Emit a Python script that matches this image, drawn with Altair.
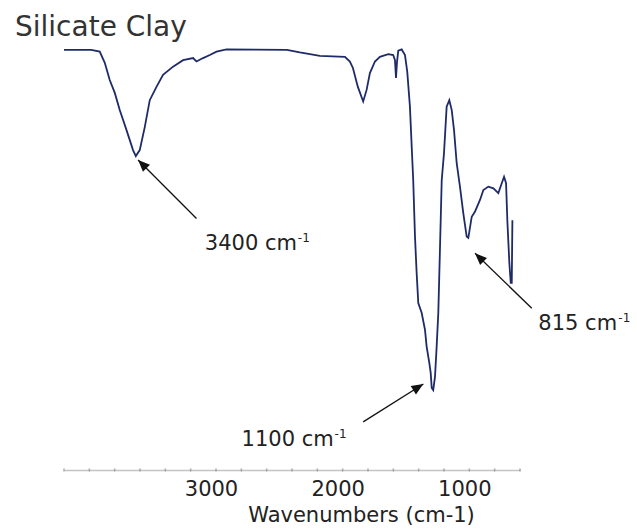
import altair as alt
import pandas as pd

# ---- spectrum ----
wavenumber = [4200, 3985, 3918, 3878, 3839, 3799, 3760, 3707, 3655, 3633,
              3602, 3562, 3523, 3470, 3418, 3339, 3260, 3181, 3154, 3102,
              3049, 2996, 2917, 2440, 2338, 2180, 1982, 1943, 1919, 1880,
              1838, 1811, 1785, 1745, 1706, 1640, 1601, 1587, 1579, 1571,
              1561, 1534, 1508, 1490, 1469, 1455, 1443, 1429, 1416, 1403,
              1376, 1350, 1337, 1316, 1305, 1297, 1285, 1271, 1258, 1245,
              1232, 1218, 1200, 1179, 1158, 1139, 1121, 1100, 1074, 1048,
              1021, 1008, 981, 955, 916, 889, 850, 810, 771, 744,
              726, 710, 700, 684, 673, 665, 660]
transmittance = [97.7, 97.7, 97.3, 94.7, 90.7, 87.7, 83.7, 79.1, 74.4, 73.0,
                 74.4, 79.8, 86.0, 89.1, 91.9, 93.8, 95.3, 95.8, 95.0, 95.8,
                 96.5, 97.3, 97.8, 97.7, 97.1, 96.3, 96.1, 95.0, 93.5, 89.1,
                 85.7, 88.4, 92.3, 95.0, 96.1, 96.7, 96.5, 95.3, 91.2, 94.9,
                 97.5, 97.8, 96.5, 92.6, 84.5, 75.2, 67.4, 54.3, 45.8, 38.8,
                 36.5, 32.6, 28.7, 24.9, 22.6, 19.1, 18.6, 21.7, 28.7, 36.5,
                 51.2, 67.4, 73.7, 84.5, 86.0, 83.7, 79.1, 71.4, 65.9, 59.8,
                 54.3, 54.0, 58.9, 60.1, 62.8, 65.1, 65.9, 65.5, 64.4, 66.7,
                 68.2, 66.7, 58.1, 48.1, 43.5, 43.5, 58.1]

# ---- axis ticks ----
minor_ticks = list(range(600, 4201, 200))
major_labels = [1000, 2000, 3000]

# ---- annotations ----
ann_text = ["3400 cm", "1100 cm", "815 cm"]
ann_sup = ["-1", "-1", "-1"]
ann_text_w = [3088, 2798, 455]
ann_text_t = [51.2, 5.6, 32.6]
ann_tail_w = [3154, 1838, 507]
ann_tail_t = [58.5, 11.2, 37.6]
ann_head_w = [3615, 1363, 955]
ann_head_t = [72.1, 20.0, 50.4]
ann_angle = [315, 58, 314]
sup_dx = [93, 93, 80]  # width of the main label text, px

spec = pd.DataFrame({"w": wavenumber, "t": transmittance,
                     "idx": list(range(len(wavenumber)))})
ann = pd.DataFrame({"text": ann_text, "sup": ann_sup,
                    "tw": ann_text_w, "tt": ann_text_t,
                    "w1": ann_tail_w, "t1": ann_tail_t,
                    "w2": ann_head_w, "t2": ann_head_t, "angle": ann_angle})
ticks = pd.DataFrame({"w": minor_ticks})

FONT = "DejaVu Sans"
TXT = "#222"
xscale = alt.Scale(domain=[600, 4200], reverse=True, nice=False, zero=False)
yscale = alt.Scale(domain=[0, 100], nice=False, zero=False)

line = alt.Chart(spec).mark_line(color="#1f2b66", strokeWidth=1.8,
                                 interpolate="linear").encode(
    x=alt.X("w:Q", scale=xscale,
            axis=alt.Axis(values=major_labels, format="d", ticks=False,
                          grid=False, domainColor="#c4c4c4", domainWidth=1.5,
                          labelFont=FONT, labelFontSize=21, labelColor=TXT,
                          labelPadding=25, labelOffset=-5,
                          labelBaseline="alphabetic",
                          labelFlush=False, labelOverlap=False,
                          title="Wavenumbers (cm-1)", titleFont=FONT,
                          titleFontSize=21, titleFontWeight="normal",
                          titleColor=TXT, titleX=297, titleY=51,
                          titleAlign="center", titleBaseline="alphabetic")),
    y=alt.Y("t:Q", scale=yscale, axis=None),
    order="idx:Q",
)

tick_marks = alt.Chart(ticks).mark_tick(
    color="#8a8a8a", thickness=1.5, size=3, orient="vertical"
).encode(x=alt.X("w:Q", scale=xscale), y=alt.value(430))

arrows = alt.Chart(ann).mark_rule(color="#111", strokeWidth=1.3).encode(
    x=alt.X("w1:Q", scale=xscale), x2="w2:Q",
    y=alt.Y("t1:Q", scale=yscale), y2="t2:Q",
)

heads = alt.Chart(ann).mark_point(
    shape="M0,0L0.42,1L-0.42,1Z", filled=True, color="#111",
    opacity=1, size=560, strokeWidth=0,
).encode(
    x=alt.X("w2:Q", scale=xscale),
    y=alt.Y("t2:Q", scale=yscale),
    angle=alt.Angle("angle:Q", scale=None),
)

labels = alt.Chart(ann).mark_text(
    align="left", baseline="alphabetic", font=FONT, fontSize=21, color=TXT,
).encode(
    x=alt.X("tw:Q", scale=xscale),
    y=alt.Y("tt:Q", scale=yscale),
    text="text:N",
)

sup_layers = []
for name, dx in zip(ann_text, sup_dx):
    sup_layers.append(
        alt.Chart(ann).transform_filter(alt.datum.text == name).mark_text(
            align="left", baseline="alphabetic", font=FONT, fontSize=12,
            color=TXT, dx=dx, dy=-8,
        ).encode(
            x=alt.X("tw:Q", scale=xscale),
            y=alt.Y("tt:Q", scale=yscale),
            text="sup:N",
        )
    )

title = alt.Chart(pd.DataFrame({"title": ["Silicate Clay"]})).mark_text(
    align="left", baseline="alphabetic", font=FONT, fontSize=28, color="#333",
).encode(x=alt.value(-49), y=alt.value(-4), text="title:N")

chart = alt.layer(line, tick_marks, arrows, heads, labels, *sup_layers,
                  title).properties(
    width=456, height=430,
    autosize=alt.AutoSizeParams(type="none"),
    padding={"left": 64, "top": 40, "right": 117, "bottom": 61},
    background="white",
).configure_view(stroke=None)

chart.save("out.html", embed_options={"renderer": "svg", "actions": False})
